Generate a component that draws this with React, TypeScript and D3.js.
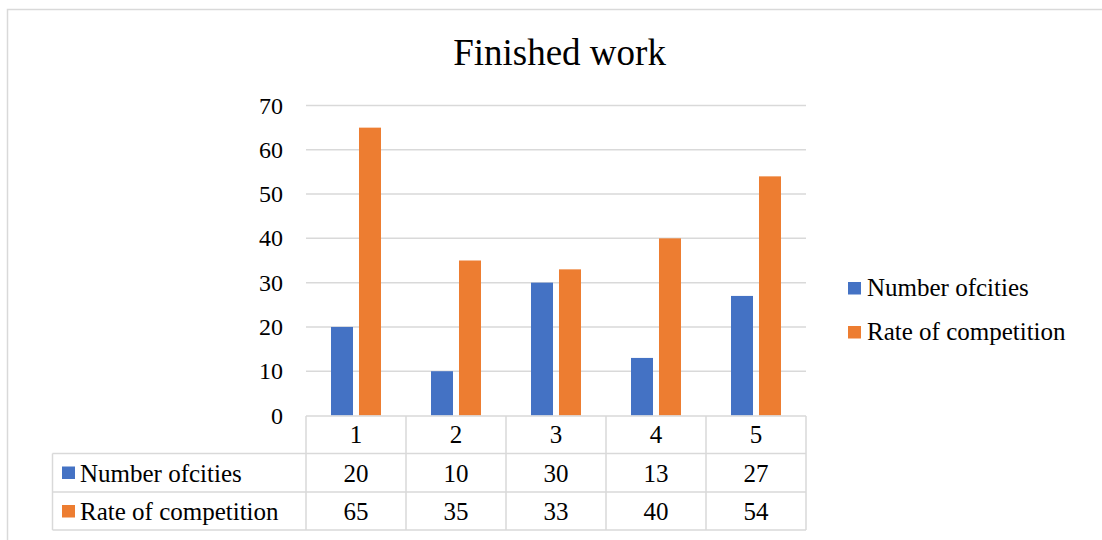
import React, { useEffect, useRef } from "react";
import * as d3 from "d3";

const categories = ["1", "2", "3", "4", "5"];
const seriesNames = ["Number ofcities", "Rate of competition"];
const numberOfCities = [20, 10, 30, 13, 27];
const rateOfCompetition = [65, 35, 33, 40, 54];
const yTicks = [0, 10, 20, 30, 40, 50, 60, 70];
const colors = ["#4472C4", "#ED7D31"];

const W = 1102;
const H = 540;
const FONT = "Liberation Serif";
const GRID = "#D9D9D9";

export default function App() {
  const ref = useRef<SVGSVGElement | null>(null);

  useEffect(() => {
    const values = [numberOfCities, rateOfCompetition];
    const plotLeft = 306;
    const plotRight = 806;
    const plotTop = 105.5;
    const plotBottom = 415.5;
    const tableLeft = 52.5;
    const rowH = [416, 453.5, 492, 530];

    const x0 = d3.scaleBand<string>().domain(categories).range([plotLeft, plotRight]).padding(0);
    const x1 = d3.scaleBand<string>().domain(seriesNames).range([25, 75]).paddingInner(0.214).paddingOuter(0);
    const y = d3.scaleLinear().domain([0, 70]).range([plotBottom, plotTop]);
    const mid = (c: string) => (x0(c) ?? 0) + x0.bandwidth() / 2;

    const svg = d3.select(ref.current!);
    svg.selectAll("*").remove();

    svg.append("rect").attr("width", W).attr("height", H).attr("fill", "#fff");
    // chart frame
    svg
      .append("rect")
      .attr("x", 7.5)
      .attr("y", 9.5)
      .attr("width", W + 20)
      .attr("height", H + 20)
      .attr("fill", "none")
      .attr("stroke", GRID)
      .attr("stroke-width", 1.5);

    const label = (x: number, yy: number, s: string | number, size: number, anchor = "start") =>
      svg
        .append("text")
        .attr("x", x)
        .attr("y", yy)
        .attr("text-anchor", anchor)
        .attr("font-family", FONT)
        .attr("font-size", size)
        .attr("fill", "#000")
        .text(String(s));

    label(559.5, 65, "Finished work", 37, "middle");

    // gridlines and value axis labels
    yTicks.forEach((t) => {
      if (t > 0) {
        svg
          .append("line")
          .attr("x1", plotLeft)
          .attr("x2", plotRight)
          .attr("y1", y(t))
          .attr("y2", y(t))
          .attr("stroke", GRID)
          .attr("stroke-width", 1.5);
      }
      label(283, y(t) + 8, t, 24, "end");
    });

    // bars
    seriesNames.forEach((s, si) => {
      svg
        .append("g")
        .attr("fill", colors[si])
        .selectAll("rect")
        .data(values[si])
        .join("rect")
        .attr("x", (_, ci) => (x0(categories[ci]) ?? 0) + (x1(s) ?? 0))
        .attr("y", (v) => y(v))
        .attr("width", x1.bandwidth())
        .attr("height", (v) => y(0) - y(v));
    });

    // data table
    const grid = svg.append("g").attr("stroke", GRID).attr("stroke-width", 1.5).attr("fill", "none");
    const seg = (a: number, b: number, c: number, d: number) =>
      grid.append("line").attr("x1", a).attr("y1", b).attr("x2", c).attr("y2", d);
    seg(plotLeft, rowH[0], plotRight, rowH[0]);
    seg(tableLeft, rowH[1], plotRight, rowH[1]);
    seg(tableLeft, rowH[2], plotRight, rowH[2]);
    seg(tableLeft, rowH[3], plotRight, rowH[3]);
    seg(tableLeft, rowH[1], tableLeft, rowH[3]);
    categories.forEach((c) => seg(x0(c) ?? 0, rowH[0], x0(c) ?? 0, rowH[3]));
    seg(plotRight, rowH[0], plotRight, rowH[3]);

    categories.forEach((c) => label(mid(c), 443, c, 25, "middle"));
    seriesNames.forEach((s, si) => {
      svg
        .append("rect")
        .attr("x", 62)
        .attr("y", rowH[si + 1] + 13)
        .attr("width", 13)
        .attr("height", 12.5)
        .attr("fill", colors[si]);
      label(80, rowH[si + 1] + 28, s, 25);
      categories.forEach((c, ci) => label(mid(c), rowH[si + 1] + 28, values[si][ci], 25, "middle"));
    });

    // legend
    seriesNames.forEach((s, si) => {
      svg
        .append("rect")
        .attr("x", 848)
        .attr("y", 282 + si * 44)
        .attr("width", 13)
        .attr("height", 12.5)
        .attr("fill", colors[si]);
      label(867, 296 + si * 44, s, 25);
    });
  }, []);

  return <svg ref={ref} width={W} height={H} style={{ position: "absolute", left: 0, top: 0 }} />;
}
